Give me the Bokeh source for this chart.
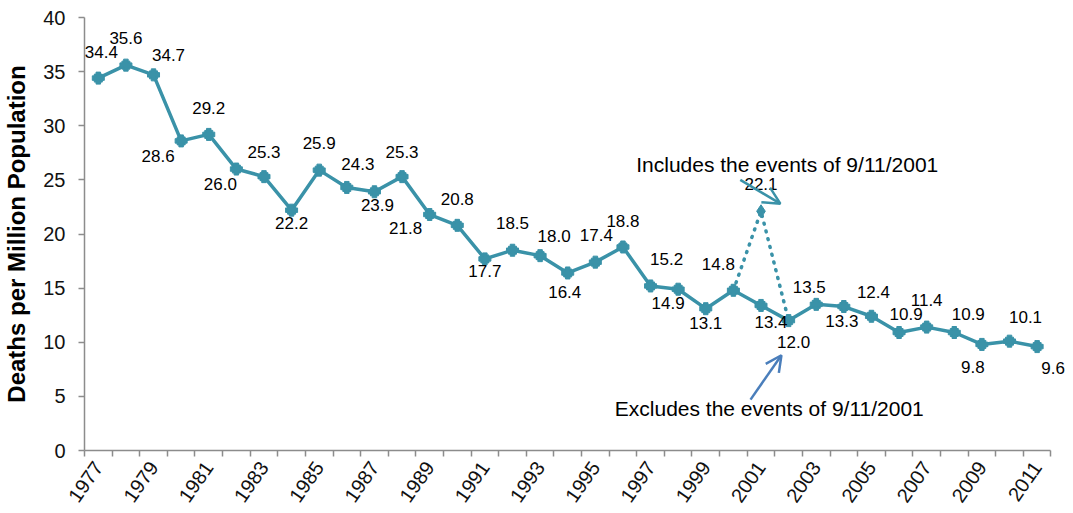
from bokeh.plotting import figure
from bokeh.models import (Range1d, FixedTicker, ColumnDataSource, Arrow, OpenHead,
                          Label, LabelSet)
from bokeh.core.properties import value
from bokeh.embed import file_html
from bokeh.resources import INLINE

# ---------------- data ----------------
years = list(range(1977, 2012))
rates = [34.4, 35.6, 34.7, 28.6, 29.2, 26.0, 25.3, 22.2, 25.9, 24.3,
         23.9, 25.3, 21.8, 20.8, 17.7, 18.5, 18.0, 16.4, 17.4, 18.8,
         15.2, 14.9, 13.1, 14.8, 13.4, 12.0, 13.5, 13.3, 12.4, 10.9,
         11.4, 10.9, 9.8, 10.1, 9.6]
incl_years = [2000, 2001, 2002]
incl_rates = [14.8, 22.1, 12.0]
x_tick_years = list(range(1977, 2012, 2))
y_ticks = [0, 5, 10, 15, 20, 25, 30, 35, 40]
y_title = "Deaths per Million Population"
incl_text = "Includes the events of 9/11/2001"
excl_text = "Excludes the events of 9/11/2001"

# label placement (screen pixels, +dy = down)
label_dx = [3, 0, 15, -23, 0, -16, 0, 0, 0, 11,
            3, 0, -24, 0, 0, 0, 14, -3, 1, 0,
            16, -10, 0, -15, 10, 5, -7, -2, 2, 7,
            0, 14, -9, 16, 16]
label_dy = [-26, -27, -20, 15, -26, 15, -25, 13, -27, -23,
            13, -25, 13, -26, 12, -27, -20, 19, -27, -26,
            -27, 14, 14, -26, 17, 21, -17, 14, -24, -19,
            -27, -19, 23, -24, 21]

# annotation anchor positions (data units)
incl_text_pos = (2001.95, 26.4)
excl_text_pos = (2001.3, 3.9)
incl_arrow = (2000.25, 25.0, 2001.7, 22.8)
excl_arrow = (2000.62, 4.7, 2001.74, 8.8)

TEAL = "#3A92A8"
BLUE = "#4A7EBB"
AXIS = "#8C8C8C"
FONT = "Liberation Sans"

x_lo, x_hi = years[0] - 0.5, years[-1] + 0.5

p = figure(width=1073, height=513, output_backend="svg", toolbar_location=None,
           x_range=Range1d(x_lo, x_hi + 0.6), y_range=Range1d(0, 40))
p.min_border_left = 82
p.min_border_right = 6
p.min_border_top = 17
p.min_border_bottom = 63
p.outline_line_color = None
p.xgrid.visible = False
p.ygrid.visible = False
p.background_fill_color = "white"
p.border_fill_color = "white"

# x axis: ticks between categories, labels every other year
xa = p.xaxis[0]
xa.bounds = (x_lo, x_hi)
xa.ticker = FixedTicker(ticks=x_tick_years,
                        minor_ticks=[y - 0.5 for y in years] + [x_hi])
xa.major_tick_out = 0
xa.major_tick_in = 0
xa.minor_tick_out = 6
xa.minor_tick_in = 0
xa.minor_tick_line_color = AXIS
xa.minor_tick_line_width = 1.5
xa.axis_line_color = AXIS
xa.axis_line_width = 1.5
xa.major_label_orientation = 0.96
xa.major_label_text_font = FONT
xa.major_label_text_font_size = "20px"
xa.major_label_text_color = "#111111"
xa.major_label_standoff = 7

ya = p.yaxis[0]
ya.ticker = FixedTicker(ticks=y_ticks)
ya.major_tick_out = 6
ya.major_tick_in = 0
ya.minor_tick_out = 0
ya.minor_tick_in = 0
ya.major_tick_line_color = AXIS
ya.major_tick_line_width = 1.5
ya.axis_line_color = AXIS
ya.axis_line_width = 1.5
ya.major_label_text_font = FONT
ya.major_label_text_font_size = "20px"
ya.major_label_text_color = "#111111"
ya.major_label_standoff = 13
ya.axis_label = y_title
ya.axis_label_text_font = FONT
ya.axis_label_text_font_size = "24px"
ya.axis_label_text_font_style = "bold"
ya.axis_label_text_color = "#000000"
ya.axis_label_standoff = 10

# dotted "includes" series
p.line(incl_years, incl_rates, line_color=TEAL, line_width=3.5,
       line_dash="1 7", line_cap="round")
p.scatter([incl_years[1]], [incl_rates[1]], marker="diamond", size=13,
          fill_color=TEAL, line_color=TEAL)

# main series
src = ColumnDataSource(dict(x=years, y=rates,
                            txt=[f"{v:.1f}" for v in rates],
                            dx=label_dx, ndy=[-d for d in label_dy]))
p.line("x", "y", source=src, line_color=TEAL, line_width=3.5)
p.scatter("x", "y", source=src, marker="square", size=8,
          fill_color=TEAL, line_color=TEAL)
p.scatter("x", "y", source=src, marker="plus", size=12,
          fill_color=TEAL, line_color=TEAL)

p.add_layout(LabelSet(x="x", y="y", text="txt", source=src,
                      x_offset="dx", y_offset="ndy",
                      text_align="center", text_baseline="middle",
                      text_font=value(FONT), text_font_size="17px",
                      text_color="#000000"))

incl_src = ColumnDataSource(dict(x=[incl_years[1]], y=[incl_rates[1]],
                                 txt=[f"{incl_rates[1]:.1f}"]))
p.add_layout(LabelSet(x="x", y="y", text="txt", source=incl_src,
                      x_offset=0, y_offset=27,
                      text_align="center", text_baseline="middle",
                      text_font=value(FONT), text_font_size="17px",
                      text_color="#000000"))

# annotations
p.add_layout(Label(x=incl_text_pos[0], y=incl_text_pos[1], text=incl_text,
                   text_align="center", text_baseline="alphabetic",
                   text_font=FONT, text_font_size="21px", text_color="#000000"))
p.add_layout(Label(x=excl_text_pos[0], y=excl_text_pos[1], text=excl_text,
                   text_align="center", text_baseline="alphabetic",
                   text_font=FONT, text_font_size="21px", text_color="#000000"))

p.add_layout(Arrow(x_start=incl_arrow[0], y_start=incl_arrow[1],
                   x_end=incl_arrow[2], y_end=incl_arrow[3],
                   line_color=TEAL, line_width=2.5,
                   end=OpenHead(size=17, line_color=TEAL, line_width=2.5)))
p.add_layout(Arrow(x_start=excl_arrow[0], y_start=excl_arrow[1],
                   x_end=excl_arrow[2], y_end=excl_arrow[3],
                   line_color=BLUE, line_width=2.5,
                   end=OpenHead(size=16, line_color=BLUE, line_width=2.5)))

open("out.html", "w").write(file_html(p, INLINE))
